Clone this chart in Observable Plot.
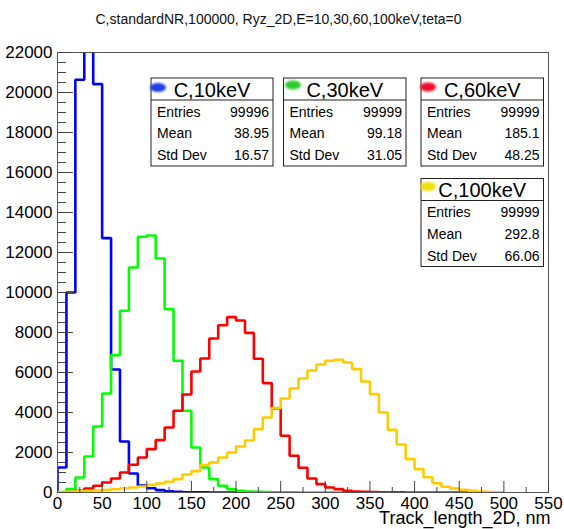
<!DOCTYPE html>
<html><head><meta charset="utf-8">
<script src="https://cdn.jsdelivr.net/npm/d3@7"></script>
<script src="https://cdn.jsdelivr.net/npm/@observablehq/plot@0.6"></script>
<style>
body{margin:0;background:#fff}
svg{font-family:"Liberation Sans",Arial,Helvetica,sans-serif}
</style>
</head><body><div id="chart"></div>
<script>
// ---- data ----
const title = "C,standardNR,100000, Ryz_2D,E=10,30,60,100keV,teta=0";
const xLabel = "Track_length_2D, nm";
const binWidth = 10;
const seriesNames = ["C,10keV", "C,30keV", "C,60keV", "C,100keV"];
const seriesColors = ["#0000ff", "#00ff00", "#ff0000", "#ffcc00"];
const markerColors = ["#1f3fe6", "#2fcc2f", "#ee1030", "#f2de10"];
const counts10keV = [1250, 10000, 20640, 24600, 20420, 12720, 6150, 2550, 950, 350, 210, 120, 60, 30, 15, 8, 5, 3, 2, 1, 1, 0];
const counts30keV = [20, 170, 750, 1800, 3300, 4950, 6870, 9085, 11250, 12785, 12850, 11700, 9170, 6585, 4085, 2250, 1250, 670, 335, 170, 90, 50, 30, 20, 10, 6, 4, 2, 1, 1, 0, 0];
const counts60keV = [10, 20, 80, 200, 335, 500, 700, 1000, 1385, 1750, 2170, 2620, 3250, 4085, 4900, 6050, 6700, 7700, 8360, 8770, 8600, 7980, 6690, 5470, 4200, 2835, 1835, 1240, 700, 420, 250, 170, 90, 50, 30, 20, 10, 6, 4, 3, 2, 1, 1, 0, 0, 0, 0];
const counts100keV = [20, 40, 60, 80, 100, 130, 160, 200, 250, 300, 380, 450, 540, 670, 900, 1070, 1370, 1500, 1750, 2000, 2300, 2600, 3170, 3750, 4220, 4700, 5200, 5700, 6100, 6400, 6585, 6635, 6500, 6170, 5550, 4920, 4000, 3130, 2400, 1670, 1170, 760, 460, 290, 200, 135, 85, 50, 25, 15];
const entries = ["99996", "99999", "99999", "99999"];
const means = ["38.95", "99.18", "185.1", "292.8"];
const stdDevs = ["16.57", "31.05", "48.25", "66.06"];
const yTicks = [0, 2000, 4000, 6000, 8000, 10000, 12000, 14000, 16000, 18000, 20000, 22000];
const xTicks = [0, 50, 100, 150, 200, 250, 300, 350, 400, 450, 500, 550];
const yMinorTicks = d3.range(0, 22001, 500).filter(v => v % 2000 !== 0);
const xMinorTicks = d3.range(25, 550, 50);

// ---- build step outlines (ROOT-style histograms) ----
function outline(counts, name) {
  const pts = [{x: 0, y: 0, name}];
  counts.forEach((c, i) => {
    pts.push({x: i * binWidth, y: c, name});
    pts.push({x: (i + 1) * binWidth, y: c, name});
  });
  pts.push({x: counts.length * binWidth, y: 0, name});
  return pts;
}
const allCounts = [counts10keV, counts30keV, counts60keV, counts100keV];
const histLines = allCounts.map((c, i) => outline(c, seriesNames[i]));

const W = 564, H = 529;
const mL = 57, mR = 16, mT = 52, mB = 37;
const frameW = W - mL - mR, frameH = H - mT - mB;
const plot = Plot.plot({
  width: W, height: H,
  marginLeft: mL, marginRight: mR, marginTop: mT, marginBottom: mB,
  style: {fontFamily: '"Liberation Sans",Arial,Helvetica,sans-serif', fontSize: "17px", color: "#000", background: "#fff"},
  x: {domain: [0, 550]},
  y: {domain: [0, 22000]},
  marks: [
    ...histLines.map((pts, i) => Plot.line(pts, {x: "x", y: "y", stroke: seriesColors[i], strokeWidth: 2.6, clip: true, strokeLinejoin: "miter"})),
    Plot.frame({stroke: "#555", strokeWidth: 1}),
    // tick labels (no tick marks)
    Plot.axisY(yTicks, {tickSize: 0, tickPadding: 5, tickFormat: d => String(d), fontSize: 17, fill: "#000", label: null}),
    Plot.axisX(xTicks, {tickSize: 0, tickPadding: 4, tickFormat: d => String(d), fontSize: 17, fill: "#000", label: null}),
    // inward tick marks: right/top-anchored axes shifted onto the left/bottom frame edges
    Plot.axisY(yTicks, {anchor: "right", dx: -frameW, tickSize: 15, tickFormat: () => "", stroke: "#444", label: null}),
    Plot.axisY(yMinorTicks, {anchor: "right", dx: -frameW, tickSize: 8, tickFormat: () => "", stroke: "#444", label: null}),
    Plot.axisX(xTicks, {anchor: "top", dy: frameH, tickSize: 12, tickFormat: () => "", stroke: "#444", label: null}),
    Plot.axisX(xMinorTicks, {anchor: "top", dy: frameH, tickSize: 6, tickFormat: () => "", stroke: "#444", label: null}),
    Plot.text([title], {text: d => d, frameAnchor: "top-left", dx: 38, dy: -33, textAnchor: "start", lineAnchor: "middle", fontSize: 14, fill: "#111"}),
    Plot.text([xLabel], {text: d => d, frameAnchor: "bottom-right", dx: 2, dy: 25.5, textAnchor: "end", lineAnchor: "middle", fontSize: 18, fill: "#000"})
  ]
});

// ---- stat boxes (ROOT TPaveStats style) ----
const svg = d3.select(plot);
const defs = svg.append("defs");
defs.append("filter").attr("id", "blur").attr("x", "-50%").attr("y", "-50%").attr("width", "200%").attr("height", "200%")
  .append("feGaussianBlur").attr("stdDeviation", 1.2);

const boxes = [
  {x: 151, y: 78, w: 122},
  {x: 283.5, y: 78, w: 122.5},
  {x: 421, y: 78, w: 122.5},
  {x: 421, y: 178.5, w: 122.5}
];
const markerPos = [[158, 87.5], [293, 85], [428, 87], [428, 186.5]];
boxes.forEach((b, i) => {
  const g = svg.append("g").attr("transform", `translate(${b.x},${b.y})`).attr("text-anchor", "start");
  g.append("rect").attr("x", 0).attr("y", 0).attr("width", b.w).attr("height", 88)
    .attr("fill", "#fff").attr("stroke", "#222").attr("stroke-width", 1);
  g.append("line").attr("x1", 0).attr("x2", b.w).attr("y1", 22).attr("y2", 22).attr("stroke", "#222");
  g.append("text").attr("x", b.w / 2).attr("y", 18.5).attr("text-anchor", "middle")
    .attr("font-size", 20).attr("fill", "#000").text(seriesNames[i]);
  const rows = [["Entries", entries[i]], ["Mean", means[i]], ["Std Dev", stdDevs[i]]];
  rows.forEach((r, j) => {
    const yy = 38.5 + j * 21.8;
    g.append("text").attr("x", 6).attr("y", yy).attr("font-size", 14).attr("text-anchor", "start").attr("fill", "#000").text(r[0]);
    g.append("text").attr("x", b.w - 4).attr("y", yy).attr("font-size", 14).attr("text-anchor", "end").attr("fill", "#000").text(r[1]);
  });
  svg.append("ellipse").attr("cx", markerPos[i][0]).attr("cy", markerPos[i][1]).attr("rx", 8).attr("ry", 4.6)
    .attr("fill", markerColors[i]).attr("filter", "url(#blur)");
});

document.getElementById("chart").appendChild(plot);
</script>
</body></html>
